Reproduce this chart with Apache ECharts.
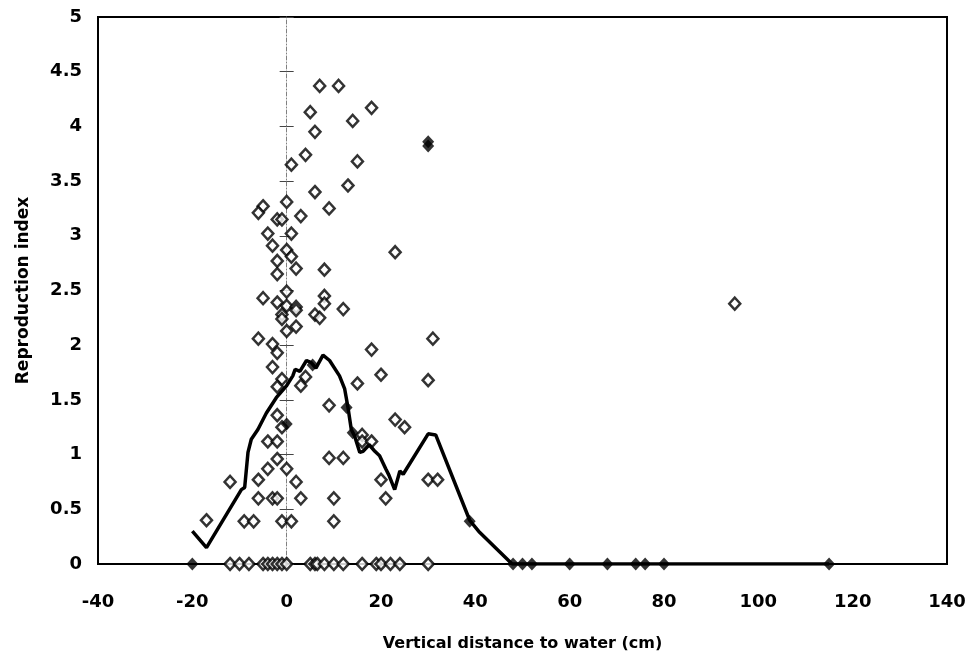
<!DOCTYPE html>
<html>
<head>
<meta charset="utf-8">
<title>Reproduction index</title>
<script src="https://cdn.jsdelivr.net/npm/echarts@6/dist/echarts.min.js"></script>
<style>
  html, body { margin: 0; padding: 0; background: #fff; }
  #chart { width: 969px; height: 662px; }
</style>
</head>
<body>
<div id="chart"></div>
<script>
// open diamonds: [distance, index]
var openPoints = [
  [7, 4.37], [11, 4.37], [5, 4.13], [18, 4.17], [14, 4.05], [6, 3.95], [4, 3.74], [1, 3.65],
  [15, 3.68], [13, 3.46], [6, 3.40], [0, 3.31], [9, 3.25], [-5, 3.27], [-6, 3.21], [-2, 3.15],
  [-1, 3.15], [3, 3.18], [-4, 3.02], [1, 3.02], [-3, 2.91], [0, 2.87], [1, 2.81], [-2, 2.77],
  [23, 2.85], [-2, 2.65], [2, 2.70], [8, 2.69], [0, 2.49], [-5, 2.43], [-2, 2.39], [0, 2.36],
  [2, 2.35], [2, 2.32], [8, 2.45], [8, 2.38], [12, 2.33], [6, 2.28], [7, 2.25], [-1, 2.28],
  [-1, 2.24], [2, 2.17], [0, 2.13], [-6, 2.06], [-3, 2.01], [-2, 1.93], [18, 1.96], [-3, 1.80],
  [-1, 1.69], [-2, 1.62], [4, 1.71], [3, 1.63], [20, 1.73], [15, 1.65], [9, 1.45], [23, 1.32],
  [25, 1.25], [-2, 1.36], [-1, 1.25], [16, 1.18], [16, 1.12], [18, 1.12], [-4, 1.12], [-2, 1.12],
  [-2, 0.96], [9, 0.97], [12, 0.97], [0, 0.87], [-4, 0.87], [-12, 0.75], [-6, 0.77], [2, 0.75],
  [20, 0.77], [-6, 0.60], [-3, 0.60], [-2, 0.60], [3, 0.60], [10, 0.60], [21, 0.60], [-17, 0.40],
  [-9, 0.39], [-7, 0.39], [-1, 0.39], [1, 0.39], [10, 0.39], [31, 2.06], [30, 1.68], [30, 0.77],
  [32, 0.77], [95, 2.38],
  [-12, 0], [-10, 0], [-8, 0], [-5, 0], [-4, 0], [-3, 0], [-2, 0], [-1, 0], [0, 0], [5, 0],
  [6, 0], [6.5, 0], [8, 0], [10, 0], [12, 0], [16, 0], [19, 0], [20, 0], [22, 0], [24, 0], [30, 0]
]

// filled diamonds
var filledPoints = [
  [-20, 0], [0, 1.28], [5.5, 1.82], [12.7, 1.43], [14, 1.2], [30, 3.86], [30, 3.82], [38.8, 0.39],
  [48, 0], [50, 0], [52, 0], [60, 0], [68, 0], [74, 0], [76, 0], [80, 0], [115, 0]
]

// running mean line
var lineX = [-20, -17, -9.6, -8.9, -8.2, -7.5, -6.1, -4.3, -2.2, 0, 1.3, 1.8, 2.8, 4.2, 5.2, 6.2,
  7.7, 9.1, 11.2, 12.3, 13.0, 13.7, 14.4, 15.5, 16.2, 17.5, 18.7, 19.7, 21, 21.7, 22.9, 24.0,
  24.7, 30, 31.6, 38.8, 40.9, 47.8, 115]
var lineY = [0.30, 0.15, 0.68, 0.70, 1.02, 1.14, 1.23, 1.38, 1.52, 1.63, 1.72, 1.78, 1.76, 1.86,
  1.84, 1.79, 1.91, 1.86, 1.72, 1.60, 1.43, 1.23, 1.17, 1.02, 1.03, 1.09, 1.03, 0.99, 0.87, 0.81,
  0.68, 0.85, 0.82, 1.19, 1.18, 0.40, 0.29, 0, 0]

var xMin = -40, xMax = 140, xStep = 20
var yMin = 0, yMax = 5, yStep = 0.5

var font = "'DejaVu Sans', 'Liberation Sans', Arial, sans-serif"
var chart = echarts.init(document.getElementById('chart'))

// cross axis at x = 0 (gray dashed, ticks both sides)
function zeroAxis (inside) {
  return {
    type: 'value',
    min: yMin,
    max: yMax,
    interval: yStep,
    position: 'left',
    axisLine: {
      show: inside,
      onZero: true,
      onZeroAxisIndex: 0,
      lineStyle: { color: '#808080', width: 1, type: [4, 2, 1, 2] }
    },
    axisTick: {
      show: true,
      inside: inside,
      length: 7,
      lineStyle: { color: '#444', width: 1 }
    },
    axisLabel: { show: false },
    splitLine: { show: false }
  }
}

chart.setOption({
  animation: false,
  grid: {
    left: 98,
    right: 22,
    top: 17,
    bottom: 98,
    show: true,
    borderColor: '#000',
    borderWidth: 2
  },
  xAxis: {
    type: 'value',
    min: xMin,
    max: xMax,
    interval: xStep,
    name: 'Vertical distance to water (cm)',
    nameLocation: 'middle',
    nameGap: 72,
    nameTextStyle: { color: '#000', fontFamily: font, fontWeight: 'bold', fontSize: 16 },
    axisLine: { onZero: false, lineStyle: { color: '#000', width: 2 } },
    axisTick: { show: false },
    axisLabel: { color: '#000', fontFamily: font, fontWeight: 'bold', fontSize: 18, margin: 29 },
    splitLine: { show: false }
  },
  yAxis: [
    {
      type: 'value',
      min: yMin,
      max: yMax,
      interval: yStep,
      position: 'left',
      name: 'Reproduction index',
      nameLocation: 'middle',
      nameGap: 66,
      nameTextStyle: { color: '#000', fontFamily: font, fontWeight: 'bold', fontSize: 17 },
      axisLine: { show: true, onZero: false, lineStyle: { color: '#000', width: 2 } },
      axisTick: { show: false },
      axisLabel: { color: '#000', fontFamily: font, fontWeight: 'bold', fontSize: 18, margin: 16 },
      splitLine: { show: false }
    },
    zeroAxis(true),
    zeroAxis(false)
  ],
  series: [
    {
      type: 'scatter',
      data: openPoints,
      symbol: 'diamond',
      symbolSize: [11, 12],
      itemStyle: { color: '#fff', borderColor: '#000', borderWidth: 2.5 },
      z: 3
    },
    {
      type: 'scatter',
      data: filledPoints,
      symbol: 'diamond',
      symbolSize: [12, 13],
      itemStyle: { color: '#000' },
      z: 4
    },
    {
      type: 'line',
      data: lineX.map(function (x, i) { return [x, lineY[i]] }),
      showSymbol: false,
      lineStyle: { color: '#000', width: 3.5 },
      z: 5
    }
  ]
})
</script>
</body>
</html>
